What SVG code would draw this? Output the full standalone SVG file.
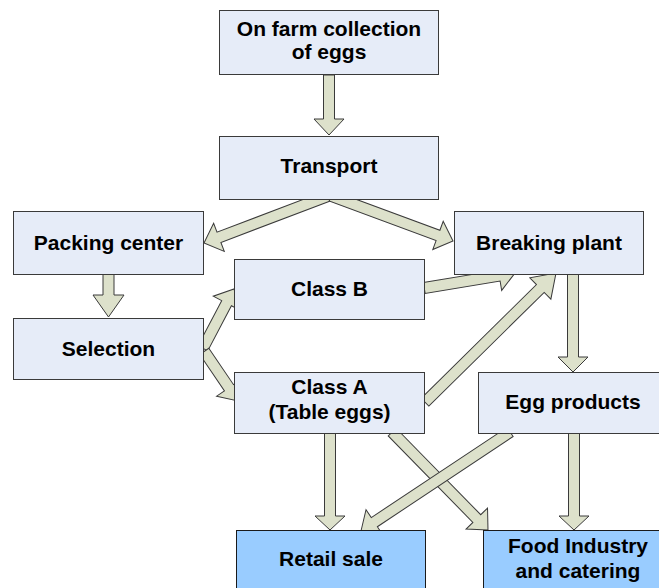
<svg xmlns="http://www.w3.org/2000/svg" width="659" height="588" viewBox="0 0 659 588">
<style>
.box{fill:#E6ECF8;stroke:#3a3a3a;stroke-width:1}
.out{fill:#99CCFF;stroke:#1a1a1a;stroke-width:1}
.arr{fill:#DDE1CB;stroke:#3a3a3a;stroke-width:1;stroke-linejoin:miter}
text{font-family:"Liberation Sans",Arial,sans-serif;font-weight:bold;font-size:21px;fill:#000;text-anchor:middle}
</style>
<rect width="659" height="588" fill="#fff"/>
<g id="connectors">
<polygon class="arr" transform="translate(329,135) rotate(90)" points="-60,-5.5 -16,-5.5 -16,-15 0,0 -16,15 -16,5.5 -60,5.5"/>
<polygon class="arr" transform="translate(204,243) rotate(159.2)" points="-133,-5.5 -16,-5.5 -16,-15 0,0 -16,15 -16,5.5 -133,5.5"/>
<polygon class="arr" transform="translate(453,241) rotate(20.3)" points="-130,-5.5 -16,-5.5 -16,-15 0,0 -16,15 -16,5.5 -130,5.5"/>
<polygon class="arr" transform="translate(108.5,317) rotate(90)" points="-43,-5.5 -22,-5.5 -22,-15.5 0,0 -22,15.5 -22,5.5 -43,5.5"/>
<polygon class="arr" transform="translate(234,289) rotate(-62.3)" points="-67,-5.5 -16,-5.5 -16,-15 0,0 -16,15 -16,5.5 -67,5.5"/>
<polygon class="arr" transform="translate(238,401) rotate(55.8)" points="-60,-5.5 -16,-5.5 -16,-15 0,0 -16,15 -16,5.5 -60,5.5"/>
<polygon class="arr" transform="translate(515,273) rotate(-9.4)" points="-92,-5.5 -16,-5.5 -16,-15 0,0 -16,15 -16,5.5 -92,5.5"/>
<polygon class="arr" transform="translate(556,273) rotate(-44.6)" points="-184,-5.5 -22,-5.5 -22,-15 0,0 -22,15 -22,5.5 -184,5.5"/>
<polygon class="arr" transform="translate(573,372) rotate(90)" points="-98,-5.5 -15,-5.5 -15,-15 0,0 -15,15 -15,5.5 -98,5.5"/>
<polygon class="arr" transform="translate(330,530) rotate(90)" points="-97,-5.5 -14,-5.5 -14,-15 0,0 -14,15 -14,5.5 -97,5.5"/>
<polygon class="arr" transform="translate(488,530) rotate(45.6)" points="-137,-5.5 -16,-5.5 -16,-15 0,0 -16,15 -16,5.5 -137,5.5"/>
<polygon class="arr" transform="translate(361,531) rotate(146.4)" points="-179,-5.5 -16,-5.5 -16,-15 0,0 -16,15 -16,5.5 -179,5.5"/>
<polygon class="arr" transform="translate(574,530) rotate(90)" points="-97,-5.5 -14,-5.5 -14,-15 0,0 -14,15 -14,5.5 -97,5.5"/>
</g>
<g id="onfarm"><rect class="box" x="219.5" y="10.5" width="219" height="64"/><text x="329" y="36">On farm collection</text><text x="329" y="59">of eggs</text></g>
<g id="transport"><rect class="box" x="219.5" y="136.5" width="219" height="63"/><text x="329" y="173">Transport</text></g>
<g id="packing"><rect class="box" x="13.5" y="211.5" width="190" height="63"/><text x="108.5" y="250">Packing center</text></g>
<g id="selection"><rect class="box" x="13.5" y="318.5" width="190" height="61"/><text x="108.5" y="356">Selection</text></g>
<g id="classb"><rect class="box" x="234.5" y="259.5" width="190" height="60"/><text x="329.5" y="296">Class B</text></g>
<g id="classa"><rect class="box" x="234.5" y="372.5" width="190" height="61"/><text x="329.5" y="394">Class A</text><text x="329.5" y="419">(Table eggs)</text></g>
<g id="breaking"><rect class="box" x="454.5" y="211.5" width="189" height="63"/><text x="549" y="250">Breaking plant</text></g>
<g id="eggproducts"><rect class="box" x="478.5" y="372.5" width="189" height="61"/><text x="573" y="409">Egg products</text></g>
<g id="retail"><rect class="out" x="236.5" y="530.5" width="189" height="70"/><text x="331" y="566">Retail sale</text></g>
<g id="food"><rect class="out" x="483.5" y="530.5" width="189" height="70"/><text x="578" y="553">Food Industry</text><text x="578" y="578">and catering</text></g>
</svg>
